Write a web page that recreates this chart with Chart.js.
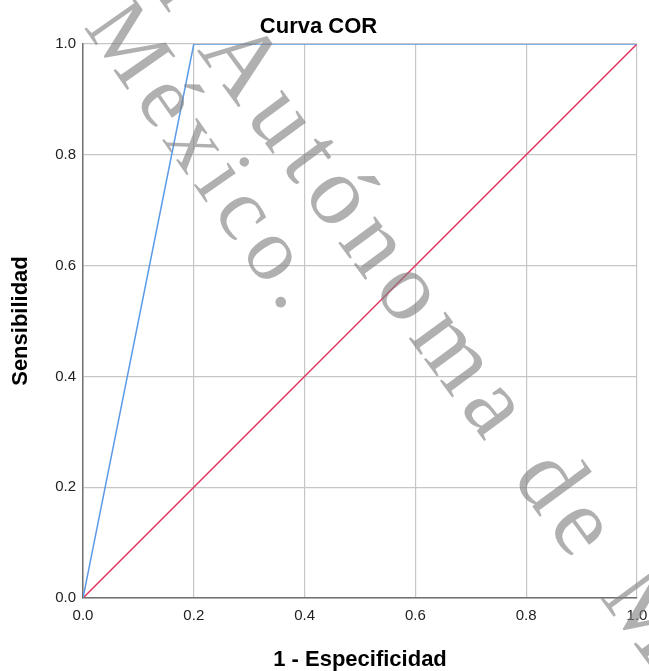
<!DOCTYPE html>
<html>
<head>
<meta charset="utf-8">
<script src="https://cdn.jsdelivr.net/npm/chart.js@4.4.1/dist/chart.umd.min.js"></script>
<style>
  html, body { margin: 0; padding: 0; background: #fff; }
  #wrap { width: 649px; height: 671px; }
</style>
</head>
<body>
<div id="wrap"><canvas id="c" width="649" height="671"></canvas></div>
<script>
// ---- data ----
const rocX = [0, 0.2, 1];
const rocY = [0, 1, 1];
const refX = [0, 1];
const refY = [0, 1];
const tickValues = [0, 0.2, 0.4, 0.6, 0.8, 1.0];
const chartTitle = 'Curva COR';
const xTitle = '1 - Especificidad';
const yTitle = 'Sensibilidad';
const watermarkLines = ['Universidad Nacional Autónoma de México', 'México.'];

const toPts = (xs, ys) => xs.map((x, i) => ({ x: x, y: ys[i] }));

// watermark: text placed so that two reference glyphs land where they are in the picture
const watermark = {
  id: 'watermark',
  afterDraw(chart) {
    const ctx = chart.ctx;
    const fam = '"Liberation Serif", "DejaVu Serif", serif';
    const S0 = 100;
    const LS = 0.1; // letter spacing, em
    ctx.save();
    ctx.fillStyle = 'rgba(128,128,128,0.62)';
    ctx.textBaseline = 'alphabetic';
    const fit = (text, a1, a2) => {
      ctx.letterSpacing = '0px';
      ctx.font = S0 + 'px ' + fam;
      const pos = (a) => ctx.measureText(text.slice(0, a.idx)).width + a.idx * LS * S0 +
        a.frac * ctx.measureText(text[a.idx]).width;
      const p1 = pos(a1), p2 = pos(a2);
      const vx = p2 - p1, vy = -(a2.h - a1.h) * S0;
      const tx = a2.x - a1.x, ty = a2.y - a1.y;
      const k = Math.hypot(tx, ty) / Math.hypot(vx, vy);
      const ang = Math.atan2(ty, tx) - Math.atan2(vy, vx);
      const size = S0 * k;
      ctx.save();
      ctx.translate(a1.x, a1.y);
      ctx.rotate(ang);
      ctx.font = size.toFixed(2) + 'px ' + fam;
      ctx.letterSpacing = (LS * size).toFixed(2) + 'px';
      ctx.fillText(text, -p1 * k, a1.h * size);
      ctx.restore();
    };
    const l1 = watermarkLines[0];
    fit(l1,
      { idx: l1.indexOf('ó'), frac: 0.5, h: 0.23, x: 335, y: 200 },
      { idx: l1.indexOf(' de ') + 2, frac: 0.5, h: 0.23, x: 578, y: 530 });
    const l2 = watermarkLines[1];
    fit(l2,
      { idx: 0, frac: 0.02, h: 0, x: 84, y: 28 },
      { idx: l2.indexOf('.'), frac: 0.5, h: 0.05, x: 281, y: 302 });
    ctx.restore();
  }
};

const font = '"Liberation Sans", Arial, sans-serif';
const gridColor = '#c6c6c6';

new Chart(document.getElementById('c'), {
  type: 'scatter',
  data: {
    datasets: [
      {
        data: toPts(refX, refY),
        showLine: true,
        borderColor: '#e2365f',
        borderWidth: 1.5,
        pointRadius: 0,
        fill: false,
        order: 2
      },
      {
        data: toPts(rocX, rocY),
        showLine: true,
        borderColor: '#5a9ae8',
        borderWidth: 1.5,
        pointRadius: 0,
        fill: false,
        order: 1
      }
    ]
  },
  options: {
    responsive: false,
    animation: false,
    events: [],
    layout: { padding: { left: 0, right: 12, top: 0, bottom: 0 } },
    plugins: {
      legend: { display: false },
      tooltip: { enabled: false },
      title: {
        display: true,
        text: chartTitle,
        color: '#000',
        font: { family: font, size: 22, weight: 'bold', lineHeight: 1.2 },
        padding: { top: 14, bottom: 3.6 }
      }
    },
    scales: {
      x: {
        type: 'linear',
        min: 0, max: 1,
        afterBuildTicks: (s) => { s.ticks = tickValues.map(v => ({ value: v })); },
        afterFit: (s) => { s.height = 73; s.paddingLeft = 0; s.paddingRight = 0; },
        ticks: {
          color: '#222',
          font: { family: font, size: 15 },
          padding: 9,
          maxRotation: 0,
          callback: (v) => v.toFixed(1)
        },
        grid: { color: gridColor, lineWidth: 1.2, drawTicks: false, tickLength: 0 },
        border: { color: '#707070', width: 1.5 },
        title: {
          display: true,
          text: xTitle,
          color: '#000',
          font: { family: font, size: 22, weight: 'bold', lineHeight: 1 },
          padding: { top: 0, bottom: 0 }
        }
      },
      y: {
        type: 'linear',
        min: 0, max: 1,
        afterBuildTicks: (s) => { s.ticks = tickValues.map(v => ({ value: v })); },
        afterFit: (s) => { s.width = 83; },
        ticks: {
          color: '#222',
          font: { family: font, size: 15 },
          padding: 7,
          callback: (v) => v.toFixed(1)
        },
        grid: { color: gridColor, lineWidth: 1.2, drawTicks: false, tickLength: 0 },
        border: { color: '#707070', width: 1.5 },
        title: {
          display: true,
          text: yTitle,
          color: '#000',
          font: { family: font, size: 22, weight: 'bold', lineHeight: 1 },
          padding: { top: 10, bottom: 0 }
        }
      }
    }
  },
  plugins: [watermark]
});
</script>
</body>
</html>
